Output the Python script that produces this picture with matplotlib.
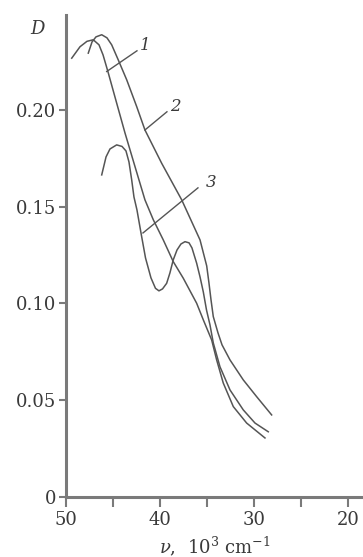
import matplotlib
matplotlib.use("Agg")
import matplotlib.pyplot as plt

# ---- data ----
curve1_x = [49.39, 48.51, 47.77, 47.10, 46.49, 46.06, 45.53, 44.61, 43.72, 42.66,
            41.60, 40.71, 39.65, 38.59, 37.52, 36.10, 35.39, 34.50, 33.97, 33.27,
            32.20, 30.78, 28.83]
curve1_y = [0.2267, 0.2326, 0.2354, 0.2362, 0.2336, 0.2284, 0.2196, 0.2035, 0.1880, 0.1707,
            0.1535, 0.1432, 0.1328, 0.1216, 0.1130, 0.1001, 0.0915, 0.0811, 0.0708, 0.0589,
            0.0467, 0.0382, 0.0305]

curve2_x = [47.63, 47.23, 46.81, 46.20, 45.64, 45.14, 44.44, 43.54, 42.48, 41.60,
            39.82, 37.69, 35.74, 35.03, 34.79, 34.57, 34.33, 33.83, 33.40, 32.55,
            31.14, 29.71, 28.12]
curve2_y = [0.2293, 0.2351, 0.2377, 0.2388, 0.2372, 0.2336, 0.2258, 0.2155, 0.2017, 0.1896,
            0.1724, 0.1535, 0.1328, 0.1194, 0.1106, 0.1018, 0.0932, 0.0848, 0.0786, 0.0708,
            0.0605, 0.0518, 0.0424]

curve3_x = [46.20, 45.74, 45.32, 44.61, 44.04, 43.62, 43.30, 43.01, 42.77, 42.45,
            42.02, 41.54, 40.96, 40.48, 40.11, 39.73, 39.29, 38.94, 38.59, 38.19,
            37.77, 37.34, 36.91, 36.60, 36.10, 35.74, 35.39, 35.05, 34.68, 34.33,
            33.62, 32.55, 31.14, 29.89, 28.48]
curve3_y = [0.1664, 0.1757, 0.1798, 0.1819, 0.1811, 0.1788, 0.1731, 0.1638, 0.1550, 0.1483,
            0.1364, 0.1235, 0.1132, 0.1078, 0.1065, 0.1075, 0.1104, 0.1158, 0.1225, 0.1276,
            0.1307, 0.1319, 0.1313, 0.1287, 0.1208, 0.1137, 0.1059, 0.0966, 0.0889, 0.0796,
            0.0673, 0.0553, 0.0450, 0.0382, 0.0337]

curve_labels = ["1", "2", "3"]
leader_start = [(45.67, 0.2198), (41.60, 0.1896), (41.81, 0.1364)]
leader_end = [(42.45, 0.2305), (39.26, 0.1990), (35.96, 0.1597)]
label_pos = [(42.15, 0.2335), (38.95, 0.2015), (35.15, 0.1625)]

x_ticks_major = [50, 40, 30, 20]
x_ticks_minor = [45, 35, 25]
y_ticks = [0, 0.05, 0.10, 0.15, 0.20]
y_tick_labels = ["0", "0.05", "0.10", "0.15", "0.20"]

# ---- style ----
plt.rcParams['font.family'] = ['DejaVu Serif']
plt.rcParams['mathtext.fontset'] = 'dejavuserif'

fig = plt.figure(figsize=(3.63, 5.57), dpi=100)
ax = fig.add_axes([66/363, 60/557, (363-66)/363, 482/557])

line_col = '#555555'
spine_col = '#7a7a7a'
txt_col = '#3a3a3a'
for xs, ys in [(curve1_x, curve1_y), (curve2_x, curve2_y), (curve3_x, curve3_y)]:
    ax.plot(xs, ys, color=line_col, lw=1.1, solid_joinstyle='round')

for (x0, y0), (x1, y1), (tx, ty), lab in zip(leader_start, leader_end, label_pos, curve_labels):
    ax.plot([x0, x1], [y0, y1], color=line_col, lw=1.0)
    ax.text(tx, ty, lab, fontsize=12, style='italic', color=txt_col,
            ha='left', va='center')

ax.set_xlim(50, 18.4)
ax.set_ylim(0, 0.249)

for s in ['top', 'right']:
    ax.spines[s].set_visible(False)
for s in ['left', 'bottom']:
    ax.spines[s].set_color(spine_col)
    ax.spines[s].set_linewidth(2.2)

ax.set_xticks(x_ticks_major)
ax.set_xticks(x_ticks_minor, minor=True)
ax.set_xticklabels([str(v) for v in x_ticks_major])
ax.set_yticks(y_ticks)
ax.set_yticklabels(y_tick_labels)

ax.tick_params(axis='x', which='both', direction='out', length=7, width=1.5,
               color=spine_col, labelsize=13, labelcolor=txt_col, pad=3)
ax.tick_params(axis='y', which='both', direction='out', length=5, width=1.5,
               color=spine_col, labelsize=13, labelcolor=txt_col, pad=2)

ax.set_xlabel(r'$\nu$,  10$^3$ cm$^{-1}$', fontsize=13, color=txt_col, labelpad=4)
ax.text(-0.095, 0.97, 'D', transform=ax.transAxes, fontsize=13, style='italic',
        color=txt_col, ha='center', va='center')

fig.savefig('out.png', dpi=100)
